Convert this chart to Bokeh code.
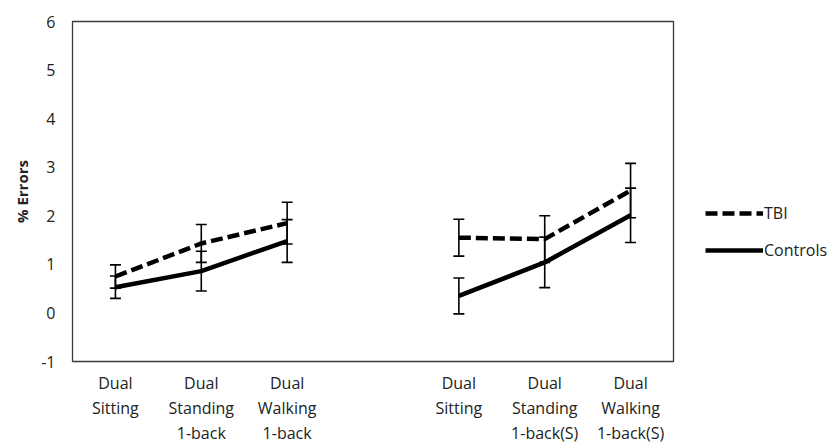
import numpy as np
from bokeh.plotting import figure
from bokeh.layouts import row
from bokeh.models import (ColumnDataSource, Whisker, TeeHead, FixedTicker,
                          Legend, LegendItem, Range1d, LinearAxis)
from bokeh.embed import file_html
from bokeh.resources import INLINE

# Task conditions, one entry per text line (slot 4 is an empty spacer)
label_line1 = ["Dual", "Dual", "Dual", "", "Dual", "Dual", "Dual"]
label_line2 = ["Sitting", "Standing", "Walking", "", "Sitting", "Standing", "Walking"]
label_line3 = ["", "1-back", "1-back", "", "", "1-back(S)", "1-back(S)"]

# Mean % errors and error-bar half widths
tbi_mean = [0.75, 1.43, 1.85, np.nan, 1.55, 1.52, 2.52]
tbi_err = [0.24, 0.39, 0.43, np.nan, 0.38, 0.48, 0.56]
ctl_mean = [0.53, 0.86, 1.48, np.nan, 0.35, 1.04, 2.01]
ctl_err = [0.23, 0.41, 0.44, np.nan, 0.37, 0.52, 0.56]

y_ticks = [-1, 0, 1, 2, 3, 4, 5, 6]
y_tick_labels = ["-1", "0", "1", "2", "3", "4", "5", "6"]

FONT = "Open Sans"
TEXT = "#222222"
x = np.arange(1, len(label_line1) + 1)

p = figure(width=675, height=446, output_backend="svg", toolbar_location=None,
           x_range=Range1d(0.5, len(label_line1) + 0.5), y_range=Range1d(-1, 6),
           min_border_left=72, min_border_right=2, min_border_top=21,
           min_border_bottom=85)
p.background_fill_color = "white"
p.border_fill_color = "white"
p.outline_line_color = "#3a3a3a"
p.outline_line_width = 1.3
p.xgrid.visible = False
p.ygrid.visible = False

# Mean lines (NaN splits each series into its two blocks)
line_style = dict(line_color="black", line_width=4.5)
tbi_style = dict(line_dash="12 5", line_cap="butt", **line_style)
tbi_line = p.line(x, tbi_mean, **tbi_style)
ctl_line = p.line(x, ctl_mean, **line_style)

# Error bars
def add_errors(means, errs):
    m = np.array(means, dtype=float)
    e = np.array(errs, dtype=float)
    ok = ~np.isnan(m)
    src = ColumnDataSource(dict(x=x[ok], lower=(m - e)[ok], upper=(m + e)[ok]))
    head = dict(size=11, line_color="black", line_width=1.6)
    p.add_layout(Whisker(source=src, base="x", lower="lower", upper="upper",
                         line_color="black", line_width=1.6,
                         upper_head=TeeHead(**head), lower_head=TeeHead(**head)))

add_errors(tbi_mean, tbi_err)
add_errors(ctl_mean, ctl_err)

# Category labels: one stacked axis per text line
def style_axis(ax):
    ax.axis_line_color = None
    ax.major_tick_line_color = None
    ax.minor_tick_line_color = None
    ax.major_tick_out = 0
    ax.major_label_text_font = FONT
    ax.major_label_text_font_size = "16px"
    ax.major_label_text_color = TEXT

x_axes = [p.xaxis[0]]
for _ in range(2):
    extra = LinearAxis()
    p.add_layout(extra, "below")
    x_axes.append(extra)
for ax, lines, standoff in zip(x_axes, [label_line1, label_line2, label_line3], [10, 0, 0]):
    ax.ticker = FixedTicker(ticks=list(x))
    ax.major_label_overrides = {int(i): s for i, s in zip(x, lines)}
    ax.major_label_standoff = standoff
    style_axis(ax)
    ax.major_label_text_line_height = 1.0

p.yaxis.ticker = FixedTicker(ticks=y_ticks)
p.yaxis.major_label_overrides = {t: s for t, s in zip(y_ticks, y_tick_labels)}
style_axis(p.yaxis[0])
p.yaxis.major_label_standoff = 17
p.yaxis.axis_label = "% Errors"
p.yaxis.axis_label_text_font = FONT
p.yaxis.axis_label_text_font_size = "15px"
p.yaxis.axis_label_text_font_style = "bold"
p.yaxis.axis_label_text_color = TEXT
p.yaxis.axis_label_standoff = 6

# Legend panel to the right of the chart; its renderers sit outside its view
leg_fig = figure(width=160, height=446, output_backend="svg", toolbar_location=None,
                 x_range=Range1d(100, 101), y_range=Range1d(100, 101),
                 min_border=0, outline_line_color=None)
leg_fig.axis.visible = False
leg_fig.grid.visible = False
leg_tbi = leg_fig.line(x, tbi_mean, **tbi_style)
leg_ctl = leg_fig.line(x, ctl_mean, **line_style)
legend = Legend(items=[LegendItem(label="TBI", renderers=[leg_tbi]),
                       LegendItem(label="Controls", renderers=[leg_ctl])],
                location=(30, 100), orientation="vertical",
                glyph_width=58, glyph_height=20, label_standoff=1, spacing=15,
                padding=0, margin=0, border_line_color=None,
                background_fill_alpha=0,
                label_text_font=FONT, label_text_font_size="16px",
                label_text_color=TEXT)
leg_fig.add_layout(legend, "center")

layout = row(p, leg_fig)
open("out.html", "w").write(file_html(layout, INLINE))
